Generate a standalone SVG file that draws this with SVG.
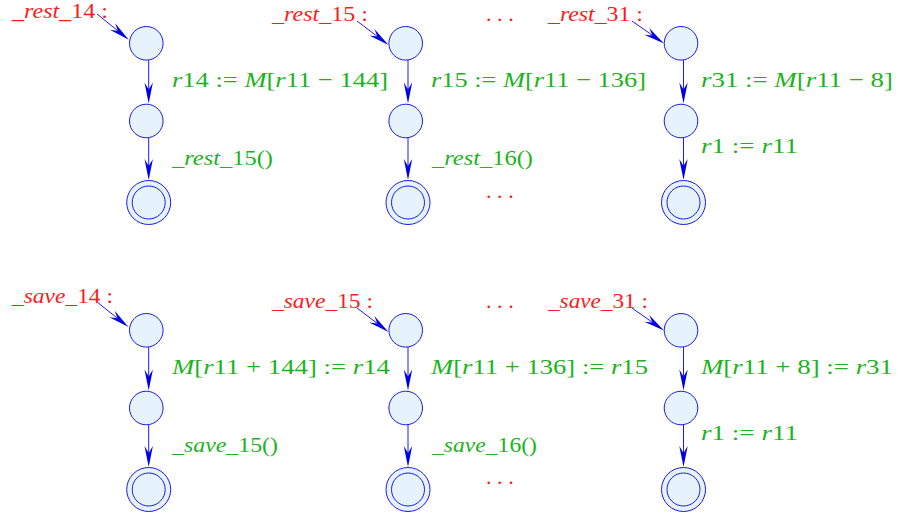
<svg xmlns="http://www.w3.org/2000/svg" width="898" height="518" viewBox="0 0 898 518">
<style>
text{font-family:"Liberation Serif","Times New Roman",serif;font-size:22px}
.red{fill:#ff1a1a}
.grn{fill:#1db31d}
.i{font-style:italic}
.n{fill:#e6f3fc;stroke:#1a1ae6;stroke-width:1}
.e{fill:none;stroke:#1a1aff;stroke-width:1}
.dots{letter-spacing:5.6px}
.sm{font-size:20px}
</style>
<defs>
<marker id="ah" markerUnits="userSpaceOnUse" viewBox="-8 -5 23 10" refX="0" refY="0" markerWidth="23" markerHeight="10" orient="auto">
<path d="M14,0 L-7,-4.2 L0,0 L-7,4.2 Z" fill="#0000e6"/>
</marker>
</defs>
<rect width="898" height="518" fill="#ffffff"/>

<!-- nodes top row -->
<g id="r14a"><circle class="n" cx="146.3" cy="43.3" r="16.8"/></g>
<g id="r14b"><circle class="n" cx="146.3" cy="121" r="16.8"/></g>
<g id="r14c"><circle class="n" cx="148.7" cy="202.5" r="22"/><circle class="n" cx="148.7" cy="202.5" r="16.5"/></g>
<g id="r15a"><circle class="n" cx="405.7" cy="43.3" r="16.8"/></g>
<g id="r15b"><circle class="n" cx="405.7" cy="121" r="16.8"/></g>
<g id="r15c"><circle class="n" cx="408" cy="202.5" r="22"/><circle class="n" cx="408" cy="202.5" r="16.5"/></g>
<g id="r31a"><circle class="n" cx="681" cy="43.3" r="16.8"/></g>
<g id="r31b"><circle class="n" cx="681" cy="121" r="16.8"/></g>
<g id="r31c"><circle class="n" cx="683.5" cy="202.5" r="22"/><circle class="n" cx="683.5" cy="202.5" r="16.5"/></g>

<!-- nodes bottom row -->
<g id="s14a"><circle class="n" cx="146.3" cy="330.3" r="16.8"/></g>
<g id="s14b"><circle class="n" cx="146.3" cy="408" r="16.8"/></g>
<g id="s14c"><circle class="n" cx="148.7" cy="489.5" r="22"/><circle class="n" cx="148.7" cy="489.5" r="16.5"/></g>
<g id="s15a"><circle class="n" cx="405.7" cy="330.3" r="16.8"/></g>
<g id="s15b"><circle class="n" cx="405.7" cy="408" r="16.8"/></g>
<g id="s15c"><circle class="n" cx="408" cy="489.5" r="22"/><circle class="n" cx="408" cy="489.5" r="16.5"/></g>
<g id="s31a"><circle class="n" cx="681" cy="330.3" r="16.8"/></g>
<g id="s31b"><circle class="n" cx="681" cy="408" r="16.8"/></g>
<g id="s31c"><circle class="n" cx="683.5" cy="489.5" r="22"/><circle class="n" cx="683.5" cy="489.5" r="16.5"/></g>

<!-- connectors -->
<g id="edges">
<line class="e" x1="97" y1="14" x2="117.9" y2="30.9" marker-end="url(#ah)"/>
<line class="e" x1="357" y1="21" x2="377.4" y2="36.5" marker-end="url(#ah)"/>
<line class="e" x1="632" y1="21" x2="652.5" y2="35.4" marker-end="url(#ah)"/>
<line class="e" x1="97" y1="302" x2="117.5" y2="318.3" marker-end="url(#ah)"/>
<line class="e" x1="357" y1="308" x2="377.4" y2="323.5" marker-end="url(#ah)"/>
<line class="e" x1="632" y1="308" x2="652.5" y2="322.4" marker-end="url(#ah)"/>

<line class="e" x1="148.7" y1="60" x2="148.7" y2="89.5" marker-end="url(#ah)"/>
<line class="e" x1="148.7" y1="138" x2="148.7" y2="166" marker-end="url(#ah)"/>
<line class="e" x1="408" y1="60" x2="408" y2="89.5" marker-end="url(#ah)"/>
<line class="e" x1="408" y1="138" x2="408" y2="166" marker-end="url(#ah)"/>
<line class="e" x1="683.5" y1="60" x2="683.5" y2="89.5" marker-end="url(#ah)"/>
<line class="e" x1="683.5" y1="138" x2="683.5" y2="166" marker-end="url(#ah)"/>

<line class="e" x1="148.7" y1="347" x2="148.7" y2="376.5" marker-end="url(#ah)"/>
<line class="e" x1="148.7" y1="425" x2="148.7" y2="453" marker-end="url(#ah)"/>
<line class="e" x1="408" y1="347" x2="408" y2="376.5" marker-end="url(#ah)"/>
<line class="e" x1="408" y1="425" x2="408" y2="453" marker-end="url(#ah)"/>
<line class="e" x1="683.5" y1="347" x2="683.5" y2="376.5" marker-end="url(#ah)"/>
<line class="e" x1="683.5" y1="425" x2="683.5" y2="453" marker-end="url(#ah)"/>
</g>

<!-- labels -->
<g id="labels">
<text class="red sm" x="12" y="17.5" textLength="96" lengthAdjust="spacingAndGlyphs">_<tspan class="i">rest</tspan>_14 :</text>
<text class="red" x="272" y="21" textLength="96" lengthAdjust="spacingAndGlyphs">_<tspan class="i">rest</tspan>_15 :</text>
<text class="red dots" x="486" y="21">...</text>
<text class="red" x="548" y="21" textLength="95" lengthAdjust="spacingAndGlyphs">_<tspan class="i">rest</tspan>_31 :</text>

<text class="grn" x="172" y="87" textLength="216" lengthAdjust="spacingAndGlyphs"><tspan class="i">r</tspan>14 := <tspan class="i">M</tspan>[<tspan class="i">r</tspan>11 − 144]</text>
<text class="grn" x="431" y="87" textLength="215" lengthAdjust="spacingAndGlyphs"><tspan class="i">r</tspan>15 := <tspan class="i">M</tspan>[<tspan class="i">r</tspan>11 − 136]</text>
<text class="grn" x="701" y="87" textLength="192" lengthAdjust="spacingAndGlyphs"><tspan class="i">r</tspan>31 := <tspan class="i">M</tspan>[<tspan class="i">r</tspan>11 − 8]</text>

<text class="grn" x="172" y="165" textLength="101" lengthAdjust="spacingAndGlyphs">_<tspan class="i">rest</tspan>_15()</text>
<text class="grn" x="432" y="165" textLength="101" lengthAdjust="spacingAndGlyphs">_<tspan class="i">rest</tspan>_16()</text>
<text class="red dots" x="486" y="198">...</text>
<text class="grn" x="701" y="153" textLength="97" lengthAdjust="spacingAndGlyphs"><tspan class="i">r</tspan>1 := <tspan class="i">r</tspan>11</text>

<text class="red" x="12" y="303" textLength="101" lengthAdjust="spacingAndGlyphs">_<tspan class="i">save</tspan>_14 :</text>
<text class="red" x="272" y="308" textLength="101" lengthAdjust="spacingAndGlyphs">_<tspan class="i">save</tspan>_15 :</text>
<text class="red dots" x="486" y="308">...</text>
<text class="red" x="548" y="308" textLength="100" lengthAdjust="spacingAndGlyphs">_<tspan class="i">save</tspan>_31 :</text>

<text class="grn" x="172" y="374" textLength="218" lengthAdjust="spacingAndGlyphs"><tspan class="i">M</tspan>[<tspan class="i">r</tspan>11 + 144] := <tspan class="i">r</tspan>14</text>
<text class="grn" x="431" y="374" textLength="217" lengthAdjust="spacingAndGlyphs"><tspan class="i">M</tspan>[<tspan class="i">r</tspan>11 + 136] := <tspan class="i">r</tspan>15</text>
<text class="grn" x="701" y="374" textLength="192" lengthAdjust="spacingAndGlyphs"><tspan class="i">M</tspan>[<tspan class="i">r</tspan>11 + 8] := <tspan class="i">r</tspan>31</text>

<text class="grn" x="172" y="452" textLength="106" lengthAdjust="spacingAndGlyphs">_<tspan class="i">save</tspan>_15()</text>
<text class="grn" x="432" y="452" textLength="105" lengthAdjust="spacingAndGlyphs">_<tspan class="i">save</tspan>_16()</text>
<text class="red dots" x="486" y="484">...</text>
<text class="grn" x="701" y="440" textLength="97" lengthAdjust="spacingAndGlyphs"><tspan class="i">r</tspan>1 := <tspan class="i">r</tspan>11</text>
</g>
</svg>
